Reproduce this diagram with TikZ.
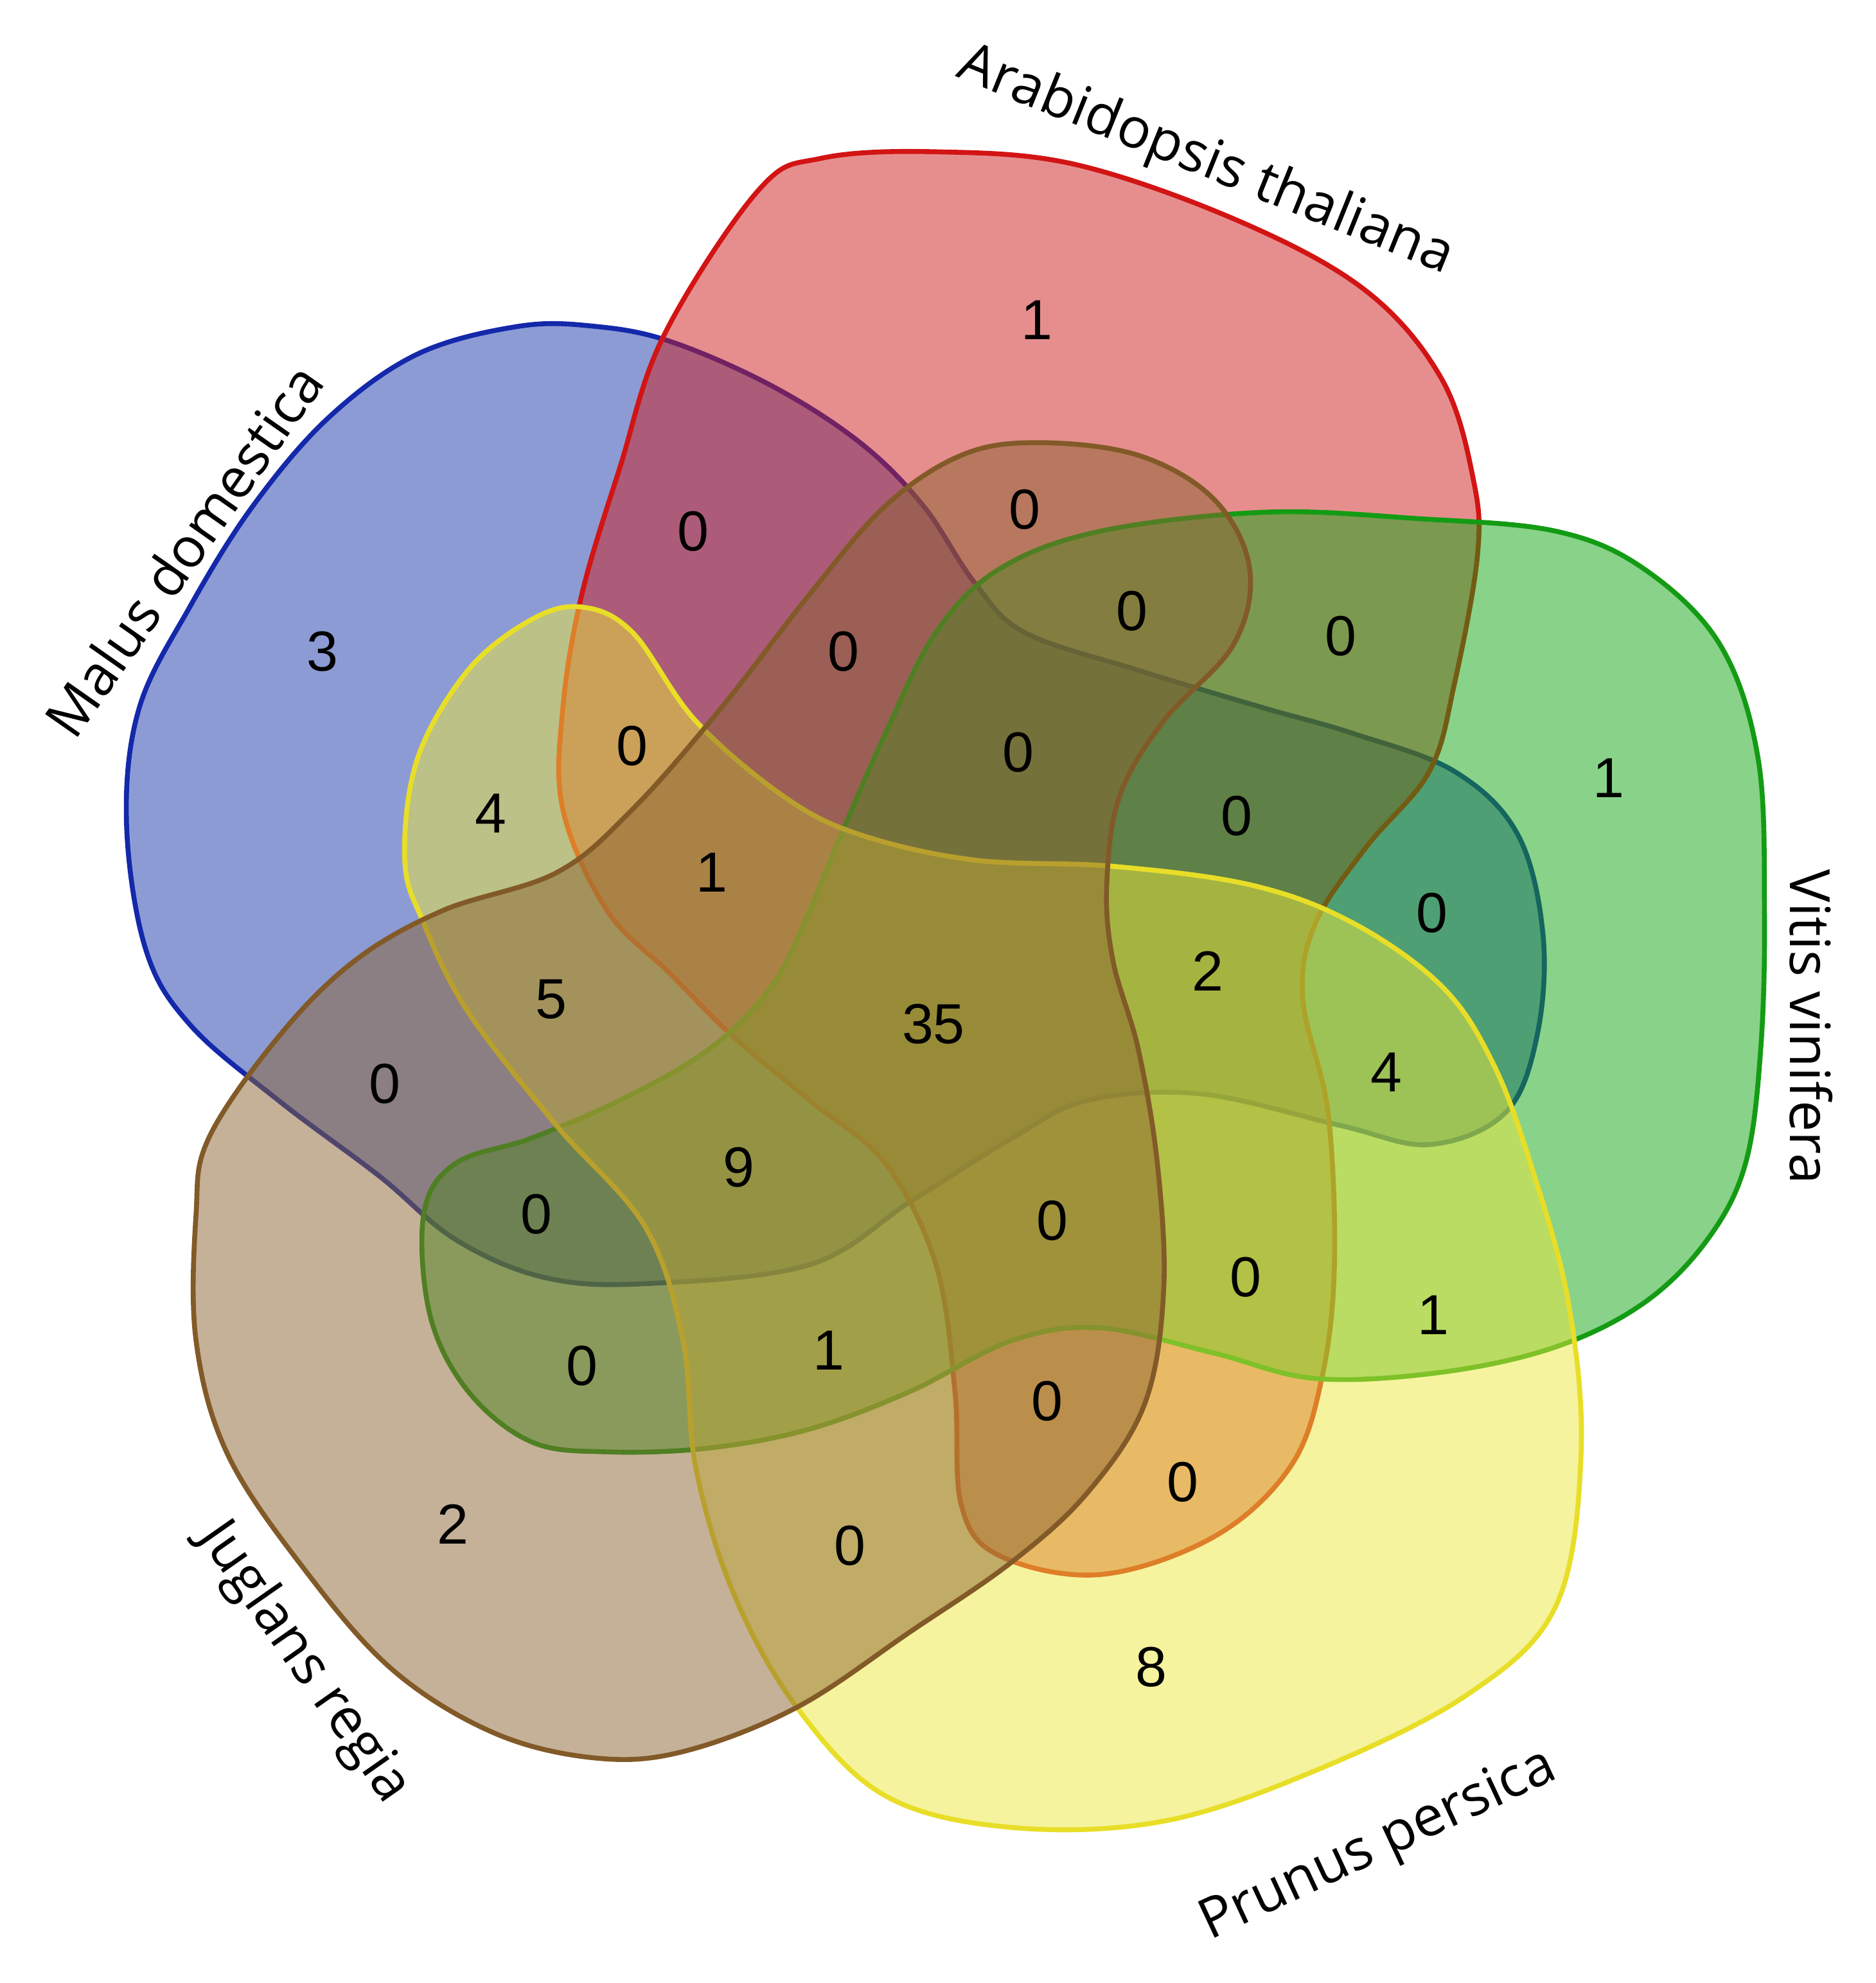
\documentclass[tikz,border=0pt]{standalone}
\usepackage{fontspec}
\setmainfont{Liberation Sans}
\newfontfamily\labfont{Open Sans}
\begin{document}
\begin{tikzpicture}[x=0.01cm,y=-0.01cm,
  set/.style={line width=1.1pt,fill opacity=0.5},
  num/.style={font=\fontsize{12.7}{14}\selectfont},
  lab/.style={font=\labfont\fontsize{12.5}{14}\selectfont}]
\definecolor{rS}{RGB}{210,20,20}\definecolor{rF}{RGB}{205,30,30}
\definecolor{bS}{RGB}{20,40,170}\definecolor{bF}{RGB}{25,55,170}
\definecolor{gS}{RGB}{20,155,20}\definecolor{gF}{RGB}{20,165,20}
\definecolor{yS}{RGB}{232,222,40}\definecolor{yF}{RGB}{235,232,60}
\definecolor{nS}{RGB}{130,90,40}\definecolor{nF}{RGB}{140,100,50}
\useasboundingbox (0,0) rectangle (1483,1568);
% Malus (blue)
\draw[set,draw=bS,fill=bF] plot[smooth cycle,tension=0.6] coordinates {(100,650)(110,560)(150,480)(200,400)(260,330)(330,280)(410,258)(470,258)(530,270)(610,305)(680,350)(730,400)(770,460)(810,500)(900,530)(1000,560)(1070,580)(1150,610)(1200,660)(1220,740)(1215,820)(1190,880)(1130,905)(1060,890)(950,865)(860,870)(800,900)(720,950)(640,1000)(510,1015)(430,1010)(360,980)(300,930)(220,870)(150,810)(115,750)};
% Arabidopsis (red)
\draw[set,draw=rS,fill=rF] plot[smooth cycle,tension=0.6] coordinates {(525,265)(600,150)(650,125)(740,120)(850,130)(980,175)(1080,230)(1140,300)(1165,380)(1168,440)(1150,540)(1130,610)(1080,670)(1040,730)(1030,790)(1050,880)(1055,1000)(1045,1090)(1020,1160)(960,1215)(870,1245)(790,1230)(760,1190)(755,1100)(740,1000)(700,920)(640,870)(580,820)(530,770)(480,720)(445,640)(445,560)(460,470)(490,370)};
% Vitis (green)
\draw[set,draw=gS,fill=gF] plot[smooth cycle,tension=0.6] coordinates {(665,660)(700,580)(740,500)(790,450)(870,420)(1000,405)(1120,410)(1230,420)(1300,450)(1360,510)(1390,600)(1395,720)(1392,830)(1380,920)(1350,980)(1300,1030)(1230,1065)(1140,1085)(1040,1090)(960,1070)(870,1050)(800,1060)(720,1100)(640,1130)(560,1145)(480,1148)(420,1140)(370,1100)(340,1040)(335,960)(360,920)(420,900)(490,870)(560,830)(610,780)(640,720)};
% Prunus (yellow)
\draw[set,draw=yS,fill=yF] plot[smooth cycle,tension=0.6] coordinates {(320,680)(330,600)(370,530)(420,490)(460,480)(500,500)(550,570)(620,630)(680,660)(770,680)(880,685)(990,700)(1070,730)(1140,780)(1180,840)(1210,920)(1240,1030)(1250,1150)(1230,1270)(1160,1340)(1040,1400)(920,1440)(800,1445)(700,1420)(630,1350)(580,1260)(550,1160)(540,1060)(510,970)(440,890)(370,800)(335,730)};
% Juglans (brown)
\draw[set,draw=nS,fill=nF] plot[smooth cycle,tension=0.6] coordinates {(155,960)(165,900)(220,820)(280,760)(350,720)(440,690)(500,640)(570,560)(640,470)(700,400)(760,360)(820,350)(900,360)(960,395)(988,450)(975,510)(920,570)(885,630)(875,700)(880,760)(900,830)(915,920)(920,1020)(905,1110)(860,1180)(800,1235)(720,1290)(630,1350)(540,1385)(470,1390)(390,1370)(310,1320)(240,1240)(180,1150)(155,1060)};
% labels
\node[lab,rotate=-22] (la) at (953,128) {Arabidopsis thaliana};
\node[lab,rotate=55] (lm) at (145,435) {Malus domestica};
\node[lab,rotate=-90] (lv) at (1432,812) {Vitis vinifera};
\node[lab,rotate=25] (lp) at (1090,1460) {Prunus persica};
\node[lab,rotate=-55] (lj) at (240,1315) {Juglans regia};
% numbers
\foreach \x/\y/\t [count=\i] in {820/253/1,255/515/3,1272/615/1,910/1318/8,358/1205/2,
548/420/0,810/403/0,667/515/0,895/483/0,1060/503/0,500/590/0,805/595/0,978/645/0,
388/643/4,563/690/1,1132/722/0,955/768/2,436/790/5,738/810/35,1096/848/4,
304/857/0,584/923/9,424/960/0,832/965/0,985/1010/0,1133/1040/1,460/1080/0,
655/1068/1,828/1108/0,935/1172/0,672/1222/0}
  \node[num] (n\i) at (\x,\y) {\t};
\end{tikzpicture}
\end{document}
